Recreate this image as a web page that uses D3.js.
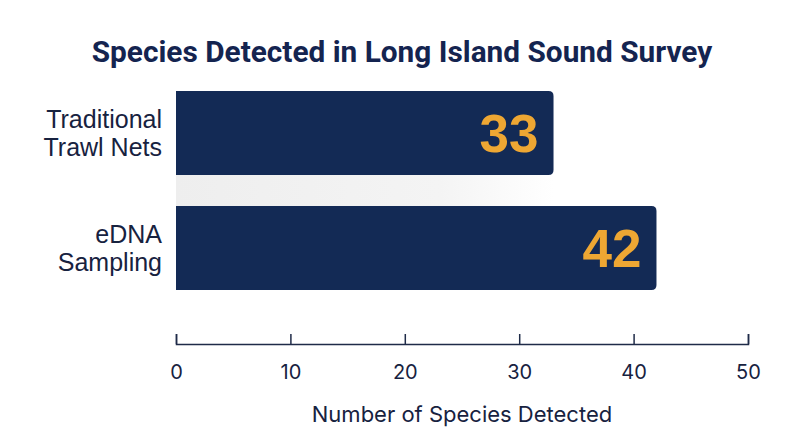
<!DOCTYPE html>
<html>
<head>
    <meta charset="UTF-8">
    <title>Species Detected in Long Island Sound Survey</title>
    <script src="https://d3js.org/d3.v7.min.js"></script>
    <style>
        body {
            margin: 0;
            background: #fff;
            font-family: Inter, "Noto Sans", Arial, sans-serif;
        }

        .axis path, .axis line {
            stroke: #1f2b48;
            stroke-width: 1.5px;
        }

        .axis text {
            font-size: 20px;
            fill: #17223f;
            font-family: Inter, "Noto Sans", Arial, sans-serif;
        }
    </style>
</head>
<body>
    <div id="chart"></div>

    <script>
        const categories = [["Traditional", "Trawl Nets"], ["eDNA", "Sampling"]];
        const values = [33, 42];
        const xTicks = [0, 10, 20, 30, 40, 50];

        const width = 800;
        const height = 447;
        const margin = {top: 91, right: 52, bottom: 157, left: 176};

        const svg = d3.select("#chart")
            .append("svg")
            .attr("width", width)
            .attr("height", height);

        const x = d3.scaleLinear()
            .domain([0, 50])
            .range([margin.left, width - margin.right]);

        const y = d3.scaleBand()
            .domain(d3.range(values.length))
            .range([margin.top, height - margin.bottom])
            .paddingInner(0.27);

        // title
        svg.append("text")
            .attr("x", 402)
            .attr("y", 62)
            .attr("text-anchor", "middle")
            .attr("font-family", "Roboto, Inter, sans-serif")
            .attr("font-size", 29.8)
            .attr("font-weight", 700)
            .attr("fill", "#142450")
            .text("Species Detected in Long Island Sound Survey");

        // faint band between the bars
        const grad = svg.append("defs").append("linearGradient")
            .attr("id", "band");
        grad.append("stop").attr("offset", "0%").attr("stop-color", "#eeeeee");
        grad.append("stop").attr("offset", "70%").attr("stop-color", "#f4f4f4");
        grad.append("stop").attr("offset", "100%").attr("stop-color", "#ffffff");

        svg.append("rect")
            .attr("x", x(0))
            .attr("y", y(0) + y.bandwidth())
            .attr("width", x(values[0]) - x(0))
            .attr("height", y(1) - y(0) - y.bandwidth())
            .attr("fill", "url(#band)");

        // bars: square left side, rounded right side
        const r = 5;
        svg.selectAll("path.bar")
            .data(values)
            .join("path")
            .attr("class", "bar")
            .attr("fill", "#132a55")
            .attr("d", (d, i) => {
                const x0 = x(0), x1 = x(d), y0 = y(i), y1 = y(i) + y.bandwidth();
                return `M${x0},${y0}H${x1 - r}Q${x1},${y0} ${x1},${y0 + r}V${y1 - r}Q${x1},${y1} ${x1 - r},${y1}H${x0}Z`;
            });

        // value labels
        svg.selectAll("text.value")
            .data(values)
            .join("text")
            .attr("class", "value")
            .attr("x", d => x(d) - 15)
            .attr("y", (d, i) => y(i) + y.bandwidth() / 2)
            .attr("dy", "0.36em")
            .attr("text-anchor", "end")
            .attr("font-family", "'Liberation Sans', Arial, sans-serif")
            .attr("font-size", 53)
            .attr("font-weight", 700)
            .attr("fill", "#eea733")
            .text(d => d);

        // category labels
        const cat = svg.selectAll("text.cat")
            .data(categories)
            .join("text")
            .attr("class", "cat")
            .attr("text-anchor", "end")
            .attr("font-family", "'Liberation Sans', Arial, sans-serif")
            .attr("font-size", 25)
            .attr("fill", "#17223f");

        cat.selectAll("tspan")
            .data((d, i) => d.map(t => ({t, i})))
            .join("tspan")
            .attr("x", 162)
            .attr("y", (d, j) => y(d.i) + y.bandwidth() / 2 - 5 + j * 28)
            .text(d => d.t);

        // axis
        const axisY = 344;
        svg.append("g")
            .attr("class", "axis")
            .attr("transform", `translate(0,${axisY})`)
            .call(d3.axisBottom(x).tickValues(xTicks).tickSize(-10).tickPadding(17))
            .call(g => g.selectAll("text").attr("dy", "0.9em"));

        svg.append("text")
            .attr("x", x(25))
            .attr("y", 422)
            .attr("text-anchor", "middle")
            .attr("font-size", 22)
            .attr("fill", "#17223f")
            .text("Number of Species Detected");
    </script>
</body>
</html>
